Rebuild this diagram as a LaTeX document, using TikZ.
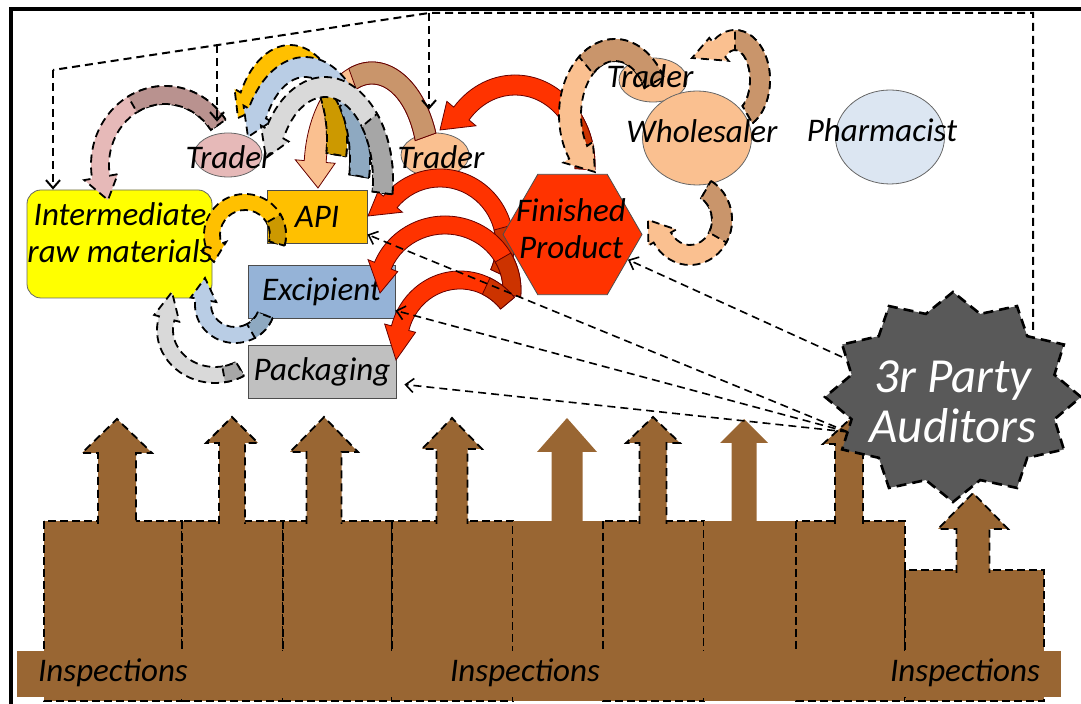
\documentclass[tikz,border=0pt]{standalone}
\usepackage{fontspec}
\setmainfont{Carlito}
\usepackage{tikz}
\usetikzlibrary{calc}
\usetikzlibrary{arrows.meta}
\usetikzlibrary{shapes.geometric}
\definecolor{interC}{HTML}{FFFF00}
\definecolor{apiC}{HTML}{FFC000}
\definecolor{apiD}{HTML}{CC9900}
\definecolor{excC}{HTML}{95B3D7}
\definecolor{blueL}{HTML}{B9CDE5}
\definecolor{blueD}{HTML}{8EA9C1}
\definecolor{packC}{HTML}{C0C0C0}
\definecolor{grayL}{HTML}{D9D9D9}
\definecolor{grayD}{HTML}{A6A6A6}
\definecolor{fpC}{HTML}{FF3300}
\definecolor{fpD}{HTML}{CC3300}
\definecolor{pinkC}{HTML}{E6B9B8}
\definecolor{pinkD}{HTML}{B9928F}
\definecolor{peachC}{HTML}{FAC090}
\definecolor{tanC}{HTML}{C9956B}
\definecolor{pharmC}{HTML}{DCE6F2}
\definecolor{audC}{HTML}{595959}
\definecolor{inspC}{HTML}{996633}
\def\dfont{\fontsize{16.5}{18.5}\selectfont\itshape}
\def\afont{\fontsize{24.5}{25}\selectfont\itshape}
\tikzstyle{ibox}=[draw=black!60, fill=interC, shape=rectangle, rounded corners=7pt, minimum width=92.5pt, minimum height=54pt, inner sep=0pt]
\tikzstyle{abox}=[draw=black!70, fill=apiC, shape=rectangle, minimum width=50pt, minimum height=26.5pt, inner sep=0pt, font=\dfont]
\tikzstyle{ebox}=[draw=black!70, fill=excC, shape=rectangle, minimum width=73.5pt, minimum height=26.5pt, inner sep=0pt, font=\dfont]
\tikzstyle{pbox}=[draw=black!70, fill=packC, shape=rectangle, minimum width=74pt, minimum height=26.5pt, inner sep=0pt, font=\dfont]
\tikzstyle{fphex}=[draw=black!70, fill=fpC, shape=regular polygon, regular polygon sides=6, minimum size=69.5pt, inner sep=0pt]
\tikzstyle{trel}=[draw=black!60, shape=ellipse, minimum width=34pt, minimum height=22pt, inner sep=0pt]
\tikzstyle{bigel}=[draw=black!60, shape=ellipse, minimum width=54.5pt, minimum height=47pt, inner sep=0pt]
\tikzstyle{lb}=[inner sep=0pt, align=center, font=\dfont]
\tikzstyle{audlb}=[inner sep=0pt, align=center, font=\afont, text=white]
\tikzstyle{dline}=[line width=1pt, dash pattern=on 4pt off 2.5pt]
\tikzstyle{darrow}=[dline, -{Straight Barb[length=4pt,width=7pt]}]
\tikzstyle{adarrow}=[line width=0.8pt, dash pattern=on 4pt off 2.5pt, -{Straight Barb[length=4pt,width=7pt]}]
\tikzstyle{cdash}=[draw=black, line width=0.9pt, dash pattern=on 4pt off 2.5pt]
\tikzstyle{cline}=[draw=black!60!red, line width=0.4pt]
\tikzstyle{audstar}=[fill=audC, draw=black, line width=1.3pt, dash pattern=on 5pt off 3pt]
\tikzstyle{insp}=[fill=inspC]
\tikzstyle{inspd}=[fill=inspC, draw=black, line width=0.7pt, dash pattern=on 4pt off 2pt]
\tikzstyle{inspa}=[fill=inspC, draw=black, line width=0.9pt, dash pattern=on 4pt off 2.5pt]
\def\ibox{\node[style=ibox]}
\def\abox{\node[style=abox]}
\def\ebox{\node[style=ebox]}
\def\pbox{\node[style=pbox]}
\def\trel{\node[style=trel]}
\def\bigel{\node[style=bigel]}
\def\lb{\node[style=lb]}
\def\carrow#1#2#3#4#5#6#7#8#9{\path[#1] ($(#2)+(#5:{#3+#8} and {#4+#8})$)
  arc[start angle=#5, end angle=#6, x radius={#3+#8}, y radius={#4+#8}]
  -- ($(#2)+(#6:{#3+#9} and {#4+#9})$) -- (#7) -- ($(#2)+(#6:{#3-#9} and {#4-#9})$)
  -- ($(#2)+(#6:{#3-#8} and {#4-#8})$)
  arc[start angle=#6, end angle=#5, x radius={#3-#8}, y radius={#4-#8}] -- cycle;}
\def\cband#1#2#3#4#5#6#7{\path[#1] ($(#2)+(#5:{#3+#7} and {#4+#7})$)
  arc[start angle=#5, end angle=#6, x radius={#3+#7}, y radius={#4+#7}]
  -- ($(#2)+(#6:{#3-#7} and {#4-#7})$)
  arc[start angle=#6, end angle=#5, x radius={#3-#7}, y radius={#4-#7}] -- cycle;}
\def\inarrow#1#2#3#4#5#6#7{\path[#1] ({#2-#3},#7) -- ({#2-#3},#5) -- ({#2-#4},#5)
  -- (#2,#6) -- ({#2+#4},#5) -- ({#2+#3},#5) -- ({#2+#3},#7);}

\begin{document}
\begin{tikzpicture}[x=0.5pt, y=0.5pt]
      \useasboundingbox (0,0) rectangle (1081,-704);
      \draw[line width=2pt] (11,-704) -- (11,-9) -- (1081,-9);

      % inspections
      \path[inspd] (44,-521) rectangle (182,-701);
      \path[inspd] (182,-521) rectangle (283,-701);
      \path[inspd] (283,-521) rectangle (392,-701);
      \path[inspd] (392,-521) rectangle (513,-701);
      \path[insp]  (513,-521) rectangle (603,-701);
      \path[inspd] (603,-521) rectangle (704,-701);
      \path[insp]  (704,-521) rectangle (796,-701);
      \path[inspd] (796,-521) rectangle (905,-701);
      \path[inspd] (905,-570) rectangle (1044,-701);

      \inarrow{inspa}{117}{19}{35}{-453}{-419}{-524}
      \inarrow{inspa}{232}{13}{26}{-443}{-417}{-524}
      \inarrow{inspa}{324}{17.5}{34}{-452}{-417}{-524}
      \inarrow{inspa}{452}{15.5}{30}{-449}{-418}{-524}
      \inarrow{insp}{567}{15.5}{30}{-452}{-418}{-524}
      \inarrow{inspa}{653}{13.5}{27}{-443}{-417}{-524}
      \inarrow{insp}{744}{12.5}{24}{-443}{-419}{-524}
      \inarrow{inspa}{849}{14}{26}{-444}{-420}{-524}
      \inarrow{inspa}{973}{16.5}{35}{-529}{-493}{-573}

      \path[insp] (17,-651) rectangle (1061,-697);
      \lb (insp1) at (113,-673) {Inspections};
      \lb (insp2) at (525,-673) {Inspections};
      \lb (insp3) at (965,-673) {Inspections};

      % next
      \ibox (inter) at (119.5,-244) {};
      \abox (api)   at (317,-216.5) {API};
      \ebox (exc)   at (321.5,-291.5) {Excipient};
      \pbox (pack)  at (322,-371.5) {Packaging};
      \trel (tr1) [fill=pinkC] at (228,-155) {};
      \trel (tr2) [fill=peachC] at (435,-155) {};
      \trel (tr3) [fill=peachC] at (653,-80) {};
      \bigel (whs) [fill=peachC] at (697,-138) {};
      \bigel (phm) [fill=pharmC] at (890,-137) {};

      % next
      \carrow{fill=fpC, cline}{515,-165}{70}{80}{-3}{140}{440,-130}{10}{19}
      \cband{fill=fpD, cline}{515,-165}{70}{80}{-3}{40}{10}
      \carrow{fill=fpC, cline}{440,-245}{65}{67}{-25}{140}{368,-216}{9}{16}
      \cband{fill=fpD, cline}{440,-245}{65}{67}{-25}{15}{9}
      \carrow{fill=fpC, cline}{445,-290}{67}{65}{-5}{158}{380,-293}{9}{16}
      \cband{fill=fpD, cline}{445,-290}{67}{65}{-5}{30}{9}
      \carrow{fill=fpC, cline}{460,-345}{62}{65}{40}{165}{396,-360}{9}{16}
      \cband{fill=fpD, cline}{460,-345}{62}{65}{40}{65}{9}
      \node[style=fphex] (fp) at (572.5,-234.5) {};

      % next
      \carrow{fill=peachC, cline}{372,-170}{57}{97}{20}{175}{318,-188}{11}{20}
      \cband{fill=tanC, cline}{372,-170}{57}{97}{20}{110}{11}
      \carrow{fill=apiC, cdash}{290,-140}{47}{85}{-10}{150}{238,-118}{10}{17}
      \cband{fill=apiD, cdash}{290,-140}{47}{85}{-10}{40}{10}
      \carrow{fill=blueL, cdash}{305,-160}{55}{93}{-10}{150}{248,-137}{10}{16}
      \cband{fill=blueD, cdash}{305,-160}{55}{93}{-10}{40}{10}
      \carrow{fill=grayL, cdash}{325,-180}{58}{93}{-8}{150}{266,-158}{10}{16}
      \cband{fill=grayD, cdash}{325,-180}{58}{93}{-8}{40}{10}
      \carrow{fill=pinkC, cdash}{165,-165}{65}{70}{35}{190}{108,-200}{9}{17}
      \cband{fill=pinkD, cdash}{165,-165}{65}{70}{35}{120}{9}

      % next
      \carrow{fill=peachC, cdash}{615,-115}{45}{65}{30}{215}{595,-172}{11}{18}
      \cband{fill=tanC, cdash}{615,-115}{45}{65}{30}{130}{11}
      \carrow{fill=peachC, cdash}{735,-80}{25}{40}{-60}{130}{692,-58}{10}{15}
      \cband{fill=tanC, cdash}{735,-80}{25}{40}{-60}{90}{10}
      \carrow{fill=peachC, cdash}{690,-220}{32}{35}{60}{-150}{648,-220}{10}{16}
      \cband{fill=tanC, cdash}{690,-220}{32}{35}{60}{-30}{10}

      % next
      \carrow{fill=apiC, cdash}{245,-235}{33}{33}{-15}{200}{214,-262}{8}{13}
      \cband{fill=apiD, cdash}{245,-235}{33}{33}{-15}{30}{8}
      \carrow{fill=blueL, cdash}{235,-305}{32}{30}{-20}{-190}{205,-278}{8}{13}
      \cband{fill=blueD, cdash}{235,-305}{32}{30}{-20}{-60}{8}
      \carrow{fill=grayL, cdash}{215,-330}{50}{45}{-60}{-195}{172,-292}{8}{13}
      \cband{fill=grayD, cdash}{215,-330}{50}{45}{-60}{-80}{8}

      % next
      \lb (intert) at (120,-233) {Intermediate\\raw materials};
      \lb (fpt) at (571,-229) {Finished\\Product};
      \lb (tr1t) at (229,-157) {Trader};
      \lb (tr2t) at (441,-157) {Trader};
      \lb (tr3t) at (650,-76) {Trader};
      \lb (whst) at (702,-131) {Wholesaler};
      \lb (phmt) at (882,-130) {Pharmacist};

      % next
      \coordinate (nA) at (1033,-330);
      \coordinate (nB) at (1033,-13);
      \coordinate (nC) at (429,-13);
      \coordinate (nD) at (53,-70);
      \coordinate (nE) at (217,-45);
      \draw[dline] (nA) -- (nB) -- (nC) -- (nD);
      \draw[darrow, shorten >=11.5pt] (nC) -- (nC |- tr2.north);
      \draw[darrow, shorten >=5.5pt] (nE) -- (nE |- tr1.north);
      \draw[darrow] (nD) -- (nD |- inter.north);

      \coordinate (audA) at (842,-357);
      \coordinate (audB) at (848,-432);
      \draw[adarrow] (audA) -- (fp);
      \draw[adarrow] (audB) -- ([yshift=-9pt]api.east);
      \draw[adarrow] (audB) -- ([yshift=-9.5pt]exc.east);
      \draw[adarrow] (audB) -- ([yshift=-6.5pt,xshift=4pt]pack.east);

      \draw[audstar, shift={(953,-397)}] (0:128 and 105)
        \foreach \a in {0,30,...,330} { -- (\a:128 and 105) -- (\a+15:105 and 86) } -- cycle;
      \node[style=audlb] (aud) at (953,-402) {3r Party\\Auditors};

\end{tikzpicture}
\end{document}
